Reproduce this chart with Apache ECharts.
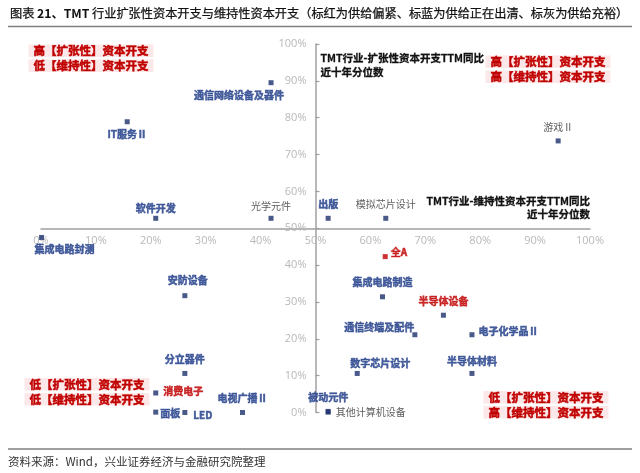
<!DOCTYPE html>
<html><head><meta charset="utf-8">
<script src="https://cdn.jsdelivr.net/npm/echarts@6/dist/echarts.min.js"></script>
<style>html,body{margin:0;padding:0;background:#fff}#c{width:640px;height:473px}</style>
</head><body><div id="c"></div>
<script>
const industries = ['通信网络设备及器件','IT服务Ⅱ','软件开发','光学元件','游戏Ⅱ','出版','模拟芯片设计','集成电路封测','全A','集成电路制造','半导体设备','通信终端及配件','电子化学品Ⅱ','数字芯片设计','半导体材料','被动元件','其他计算机设备','安防设备','分立器件','消费电子','面板','LED','电视广播Ⅱ'];
const maintenancePct = [41.9,15.7,20.9,41.9,94.2,52.3,62.8,0.1,62.7,62.2,73.3,68.1,78.5,57.6,78.5,52.3,52.3,26.2,26.2,20.9,20.9,26.2,36.7];
const expansionPct = [89.5,78.9,52.7,52.7,73.7,52.7,52.7,47.5,42.3,31.4,26.4,21.1,21.1,10.6,10.6,0.3,0.1,31.7,10.6,5.3,0.1,0.0,0.0];
const supplyStatus = ['clearing','clearing','clearing','ample','ample','clearing','ample','clearing','market','clearing','tight','clearing','clearing','clearing','clearing','clearing','ample','clearing','clearing','tight','clearing','clearing','clearing'];
const axisTicks = [0,10,20,30,40,50,60,70,80,90,100];

const quadrantNotes = [
  ['高【扩张性】资本开支','低【维持性】资本开支'],
  ['高【扩张性】资本开支','高【维持性】资本开支'],
  ['低【扩张性】资本开支','低【维持性】资本开支'],
  ['低【扩张性】资本开支','高【维持性】资本开支']
];
const yAxisTitle = ['TMT行业-扩张性资本开支TTM同比','近十年分位数'];
const xAxisTitle = ['TMT行业-维持性资本开支TTM同比','近十年分位数'];
const titleText = ['图表 ','21、TMT',' 行业扩张性资本开支与维持性资本开支（标红为供给偏紧、标蓝为供给正在出清、标灰为供给充裕）'];
const sourceText = '资料来源：Wind，兴业证券经济与金融研究院整理';

// ---- styling (not data) ----
const FONT = '"Noto Sans CJK SC","Noto Sans",sans-serif';
const NAVY = '#1b2f6b', BLUE = '#1f3c88', RED = '#c00000', GRAY = '#333333';
const labelPlace = {
 '通信网络设备及器件': {position:'bottom', distance:2, offset:[-32,3]},
 'IT服务Ⅱ': {position:'bottom', distance:3, offset:[0,2]},
 '软件开发': {position:'top', distance:3},
 '光学元件': {position:'top', distance:5},
 '游戏Ⅱ': {position:'top', distance:6},
 '出版': {position:'top', distance:7},
 '模拟芯片设计': {position:'top', distance:7},
 '集成电路封测': {position:'bottom', distance:2, offset:[23,2]},
 '全A': {position:'right', distance:3, offset:[0,-4]},
 '集成电路制造': {position:'top', distance:7},
 '半导体设备': {position:'top', distance:7},
 '通信终端及配件': {position:'left', distance:0, offset:[2,-8]},
 '电子化学品Ⅱ': {position:'right', distance:4, offset:[0,-4]},
 '数字芯片设计': {position:'top', distance:3, offset:[23,0]},
 '半导体材料': {position:'top', distance:5},
 '被动元件': {position:'top', distance:7},
 '其他计算机设备': {position:'right', distance:5},
 '安防设备': {position:'top', distance:8, offset:[3,0]},
 '分立器件': {position:'top', distance:7},
 '消费电子': {position:'right', distance:5, offset:[0,-1.5]},
 '面板': {position:'right', distance:2, offset:[0,1.5]},
 'LED': {position:'right', distance:6, offset:[0,2.5]},
 '电视广播Ⅱ': {position:'top', distance:7}
};
const statusStyle = {
  clearing: {marker: NAVY, label: BLUE, weight: 'bold', border: 0.5},
  tight:    {marker: NAVY, label: RED,  weight: 'bold', border: 0.5},
  ample:    {marker: NAVY, label: GRAY, weight: 'normal', border: 0},
  market:   {marker: RED,  label: RED,  weight: 'bold', border: 0.5}
};

const points = industries.map((name, i) => {
  const st = statusStyle[supplyStatus[i]];
  const p = labelPlace[name] || {position:'top', distance:5};
  return {
    name,
    value: [maintenancePct[i], expansionPct[i]],
    itemStyle: {color: st.marker},
    label: {
      show: true, formatter: name, position: p.position, distance: p.distance,
      offset: p.offset || [0,0], color: st.label, fontWeight: st.weight,
      fontSize: 10, fontFamily: FONT,
      textBorderColor: st.border ? st.label : 'transparent', textBorderWidth: st.border
    }
  };
});

const G = {left: 41, right: 50, top: 44, bottom: 60.5};
const gw = 640 - G.left - G.right, gh = 473 - G.top - G.bottom;

const axisCommon = {
  type: 'value', min: axisTicks[0], max: axisTicks[axisTicks.length-1], interval: axisTicks[1]-axisTicks[0],
  splitLine: {show: false},
  axisLine: {show: true, lineStyle: {color: '#a0a0a0', width: 1.5}},
  axisLabel: {color: '#b8b8b8', fontSize: 11, fontFamily: '"Open Sans","Noto Sans",sans-serif', formatter: '{value}%'}
};

const graphics = [];
function txt(x, y, text, o) {
  graphics.push({type: 'text', z: 10, style: Object.assign({x, y, text, fontFamily: FONT, fontSize: 11, fill: '#000', align: 'left', verticalAlign: 'middle'}, o || {})});
}
function hline(y) {
  graphics.push({type: 'line', shape: {x1: 8, y1: y, x2: 632, y2: y}, style: {stroke: '#7f7f7f', lineWidth: 1.5}});
}
// title
txt(10, 13.5, '{a|' + titleText[0] + '}{b|' + titleText[1] + '}{a|' + titleText[2] + '}', {
  rich: {
    a: {fontFamily: FONT, fontSize: 12.2, fill: '#111', stroke: '#111', lineWidth: 0.25},
    b: {fontFamily: FONT, fontSize: 12.2, fontWeight: 'bold', fill: '#111'}
  }
});
hline(26.5);
hline(449);
txt(8, 461.5, sourceText, {fontSize: 11.5, fill: '#333'});
// quadrant notes
const notePos = [[91, 50.7], [548, 61.7], [87, 384.3], [546, 397.3]];
quadrantNotes.forEach((lines, qi) => {
  lines.forEach((t, li) => {
    txt(notePos[qi][0], notePos[qi][1] + li * 15, t, {
      align: 'center', fontSize: 11.5, fontWeight: 'bold', fill: RED,
      stroke: RED, lineWidth: 0.5,
      backgroundColor: '#fce8e8', padding: [1, 5, 0, 5]
    });
  });
});
// axis titles
yAxisTitle.forEach((t, i) => txt(320.5, 58.3 + i * 14, t, {fontSize: 10.5, fontWeight: 'bold', fill: '#111', stroke: '#111', lineWidth: 0.3}));
xAxisTitle.forEach((t, i) => txt(590, 200.7 + i * 13.5, t, {fontSize: 10.5, fontWeight: 'bold', fill: '#111', stroke: '#111', lineWidth: 0.3, align: 'right'}));

const chart = echarts.init(document.getElementById('c'), null, {renderer: 'canvas'});
chart.setOption({
  animation: false,
  backgroundColor: '#fff',
  grid: G,
  xAxis: Object.assign({}, axisCommon, {
    position: 'bottom', offset: -gh / 2,
    axisTick: {show: false},
    axisLabel: Object.assign({}, axisCommon.axisLabel, {margin: 7})
  }),
  yAxis: Object.assign({}, axisCommon, {
    position: 'left', offset: -gw / 2,
    axisTick: {show: true, inside: true, length: 4, lineStyle: {color: '#a0a0a0', width: 1.2}},
    axisLabel: Object.assign({}, axisCommon.axisLabel, {margin: 9})
  }),
  graphic: graphics,
  series: [{
    type: 'scatter', symbol: 'rect', symbolSize: 5, clip: false,
    data: points, z: 5
  }]
});
</script></body></html>
